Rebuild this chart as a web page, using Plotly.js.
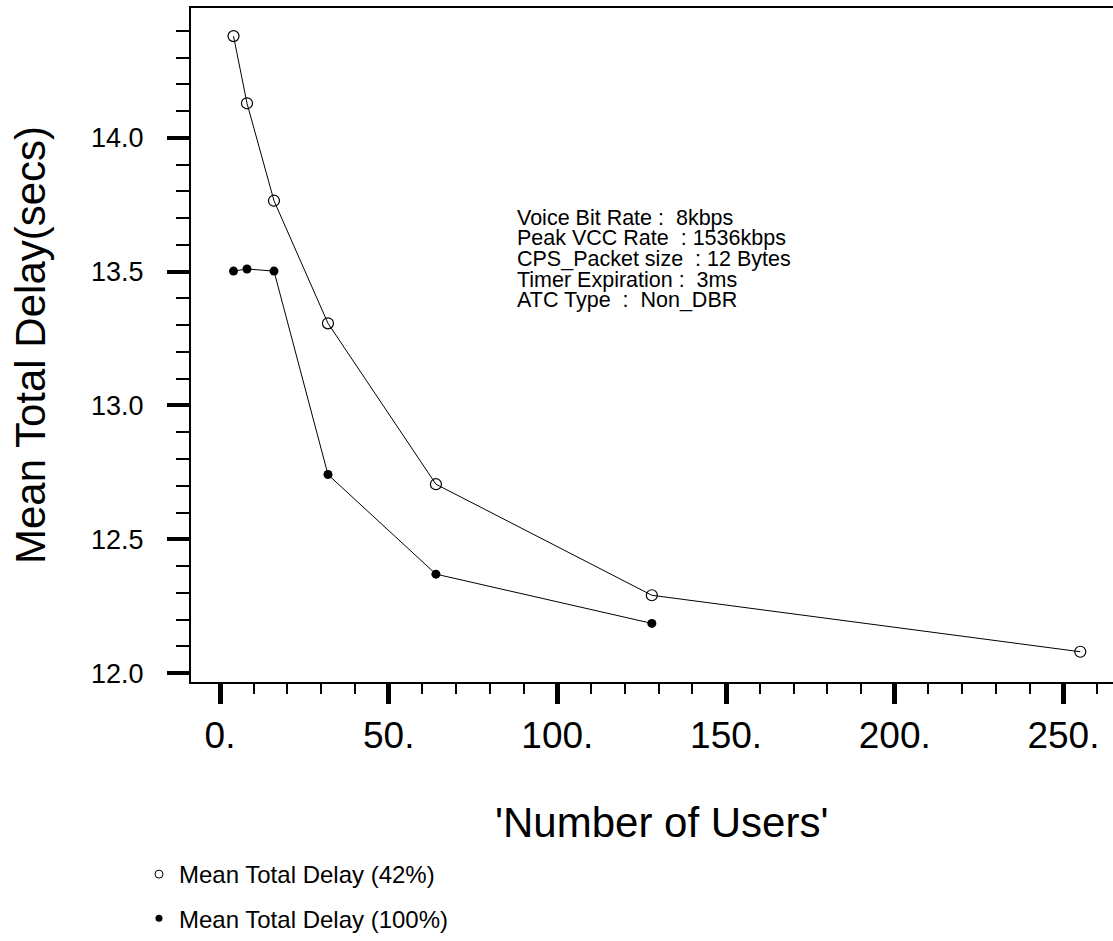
<!DOCTYPE html>
<html>
<head>
<meta charset="utf-8">
<script src="https://cdn.plot.ly/plotly-3.0.1.min.js"></script>
<style>
html,body{margin:0;padding:0;background:#fff;}
#chart{width:1113px;height:941px;}
</style>
</head>
<body>
<div id="chart"></div>
<script>
// ---- data ----
const users42 = [4, 8, 16, 32, 64, 128, 255];
const delay42 = [14.380, 14.129, 13.765, 13.307, 12.706, 12.291, 12.080];
const users100 = [4, 8, 16, 32, 64, 128];
const delay100 = [13.502, 13.510, 13.502, 12.742, 12.370, 12.186];
const seriesNames = ['Mean Total Delay (42%)', 'Mean Total Delay (100%)'];
const xTickVals = [0, 50, 100, 150, 200, 250];
const xTickText = ['0.', '50.', '100.', '150.', '200.', '250.'];
const yTickVals = [12.0, 12.5, 13.0, 13.5, 14.0];
const yTickText = ['12.0', '12.5', '13.0', '13.5', '14.0'];
const infoLines = [
  'Voice Bit Rate :  8kbps',
  'Peak VCC Rate  : 1536kbps',
  'CPS_Packet size  : 12 Bytes',
  'Timer Expiration :  3ms',
  'ATC Type  :  Non_DBR'
];
const xTitle = "'Number of Users'";
const yTitle = 'Mean Total Delay(secs)';

const FONT = 'Liberation Sans, Arial, sans-serif';
// plot frame in pixels: x 191..1113, y 8..693
const L = 191, W = 922, B = 693, H = 685;
const px = v => (v - L) / W;
const py = v => (B - v) / H;

const traces = [
  {
    x: users42, y: delay42, name: seriesNames[0], type: 'scatter', mode: 'lines+markers',
    line: {color: '#000', width: 1},
    marker: {symbol: 'circle-open', size: 11, color: '#000', line: {width: 1.2, color: '#000'}},
    showlegend: false
  },
  {
    x: users100, y: delay100, name: seriesNames[1], type: 'scatter', mode: 'lines+markers',
    line: {color: '#000', width: 1},
    marker: {symbol: 'circle', size: 9, color: '#000'},
    showlegend: false
  },
  // legend entries (marker only)
  {
    x: [null], y: [null], name: seriesNames[0], type: 'scatter', mode: 'markers',
    marker: {symbol: 'circle-open', size: 8, color: '#000', line: {width: 1, color: '#000'}},
    legendgroup: 'a', showlegend: true
  },
  {
    x: [null], y: [null], name: seriesNames[1], type: 'scatter', mode: 'markers',
    marker: {symbol: 'circle', size: 7, color: '#000'},
    legendgroup: 'b', showlegend: true
  }
];

const annotations = infoLines.map((t, i) => ({
  text: t, xref: 'paper', yref: 'paper',
  x: px(515), y: py(221 + i * 21),
  xanchor: 'left', yanchor: 'middle', showarrow: false,
  font: {family: FONT, size: 21.5, color: '#000'}
}));
annotations.push({
  text: xTitle, xref: 'paper', yref: 'paper',
  x: px(661), y: py(836), xanchor: 'center', yanchor: 'middle', showarrow: false,
  font: {family: FONT, size: 42, color: '#000'}
});
annotations.push({
  text: yTitle, xref: 'paper', yref: 'paper', textangle: -90,
  x: px(30), y: py(350.5), xanchor: 'center', yanchor: 'middle', showarrow: false,
  font: {family: FONT, size: 42, color: '#000'}
});

const layout = {
  width: 1113, height: 941,
  margin: {l: L, r: 0, t: 8, b: 941 - B},
  paper_bgcolor: '#fff', plot_bgcolor: '#fff',
  font: {family: FONT, color: '#000'},
  xaxis: {
    range: [-8.6, 264.7],
    tickmode: 'array', tickvals: xTickVals, ticktext: xTickText,
    ticks: 'outside', ticklen: 20, tickwidth: 5, tickcolor: '#000',
    minor: {dtick: 10, ticks: 'outside', ticklen: 10, tickwidth: 2, tickcolor: '#000', showgrid: false},
    showline: true, linewidth: 2, linecolor: '#000', mirror: true,
    showgrid: false, zeroline: false,
    tickfont: {family: FONT, size: 37, color: '#000'}
  },
  yaxis: {
    range: [11.967, 14.485],
    tickmode: 'array', tickvals: yTickVals, ticktext: yTickText,
    ticks: 'outside', ticklen: 22, tickwidth: 4, tickcolor: '#000',
    minor: {dtick: 0.1, ticks: 'outside', ticklen: 13, tickwidth: 2, tickcolor: '#000', showgrid: false},
    showline: true, linewidth: 2, linecolor: '#000', mirror: false,
    showgrid: false, zeroline: false,
    tickfont: {family: FONT, size: 27, color: '#000'},
    ticklabelstandoff: 18
  },
  showlegend: true,
  legend: {
    x: px(139), y: py(866), xanchor: 'left', yanchor: 'top',
    font: {family: FONT, size: 24, color: '#000'},
    tracegroupgap: 10, bgcolor: 'rgba(0,0,0,0)', itemwidth: 30
  },
  annotations: annotations
};

Plotly.newPlot('chart', traces, layout, {displayModeBar: false, staticPlot: true});
</script>
</body>
</html>
